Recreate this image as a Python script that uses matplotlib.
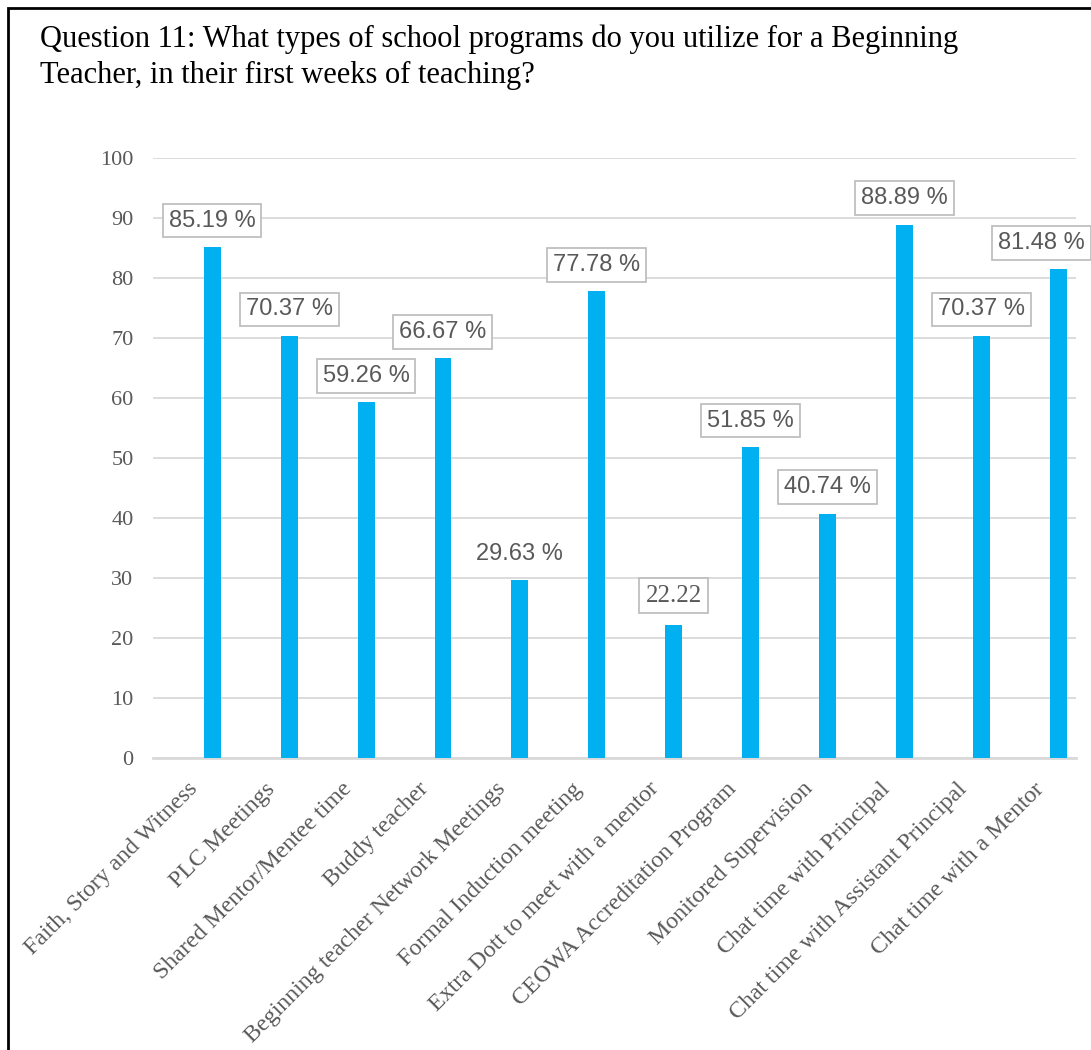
import matplotlib.pyplot as plt
import matplotlib.patches as patches
import matplotlib.transforms as transforms
import numpy as np

# dados do grafico
programas = [
    "Faith, Story and Witness",
    "PLC Meetings",
    "Shared Mentor/Mentee time",
    "Buddy teacher",
    "Beginning teacher Network Meetings",
    "Formal Induction meeting",
    "Extra Dott to meet with a mentor",
    "CEOWA Accreditation Program",
    "Monitored Supervision",
    "Chat time with Principal",
    "Chat time with Assistant Principal",
    "Chat time with a Mentor",
]
percentuais = [85.19, 70.37, 59.26, 66.67, 29.63, 77.78, 22.22, 51.85, 40.74, 88.89, 70.37, 81.48]
rotulos = ["85.19 %", "70.37 %", "59.26 %", "66.67 %", "29.63 %", "77.78 %",
           "22.22", "51.85 %", "40.74 %", "88.89 %", "70.37 %", "81.48 %"]
ticks_y = [0, 10, 20, 30, 40, 50, 60, 70, 80, 90, 100]

TITULO = "Question 11: What types of school programs do you utilize for a Beginning\nTeacher, in their first weeks of teaching?"

AZUL = "#00b0f0"
CINZA_TEXTO = "#595959"
CINZA_GRADE = "#d9d9d9"


def main():
    fig = plt.figure(figsize=(10.91, 10.5), dpi=100)
    ax = fig.add_axes([0.1402, 0.278, 0.8461, 0.5715])

    x = np.arange(len(programas))
    ax.bar(x, percentuais, width=0.22, color=AZUL, zorder=3)

    ax.set_xlim(-0.77, 11.23)
    ax.set_ylim(0, 100)
    ax.set_yticks(ticks_y)
    ax.set_yticklabels([str(t) for t in ticks_y], family="Liberation Serif",
                       fontsize=16, color=CINZA_TEXTO)
    ax.tick_params(axis="y", length=0, pad=14)
    ax.tick_params(axis="x", length=0, pad=6)

    ax.set_xticks(x)
    ax.set_xticklabels(programas, rotation=45, ha="right", rotation_mode="anchor",
                       family="Liberation Serif", fontsize=17.2, color=CINZA_TEXTO)
    # desloca os rotulos do eixo x para baixo e para a esquerda
    desloc = transforms.ScaledTranslation(-0.25, -0.12, fig.dpi_scale_trans)
    for rot in ax.get_xticklabels():
        rot.set_transform(rot.get_transform() + desloc)

    # grade horizontal
    ax.grid(axis="y", color=CINZA_GRADE, linewidth=1.3, zorder=0)
    for lado in ["top", "right", "left"]:
        ax.spines[lado].set_visible(False)
    ax.spines["bottom"].set_color(CINZA_GRADE)
    ax.spines["bottom"].set_linewidth(2)

    # rotulos de dados
    caixa = dict(boxstyle="square,pad=0.25", fc="white", ec="#bfbfbf", lw=1.3)
    for i, (v, r) in enumerate(zip(percentuais, rotulos)):
        dx = 0
        if i == len(percentuais) - 1:
            # ultimo rotulo empurrado para dentro da figura
            dx = -12
        if i == 4:
            # sem caixa
            ax.annotate(r, (x[i], v), xytext=(dx, 19), textcoords="offset points",
                        ha="center", va="center", fontsize=17, color=CINZA_TEXTO,
                        family="Liberation Sans", zorder=5, annotation_clip=False)
        elif i == 6:
            ax.annotate(r, (x[i], v), xytext=(dx, 21), textcoords="offset points",
                        ha="center", va="center", fontsize=18, color=CINZA_TEXTO,
                        family="Liberation Serif", zorder=5, annotation_clip=False,
                        bbox=caixa)
        else:
            ax.annotate(r, (x[i], v), xytext=(dx, 19), textcoords="offset points",
                        ha="center", va="center", fontsize=17, color=CINZA_TEXTO,
                        family="Liberation Sans", zorder=5, annotation_clip=False,
                        bbox=caixa)

    fig.text(0.0367, 0.977, TITULO, ha="left", va="top", fontsize=22,
             family="Liberation Serif", color="black", linespacing=1.35)

    # borda do grafico
    borda = patches.Rectangle((0.0073, -0.02), 1.1, 0.9924 + 0.02,
                              transform=fig.transFigure, fill=False,
                              edgecolor="black", linewidth=2)
    fig.patches.append(borda)

    fig.savefig("out.png", dpi=100)


if __name__ == '__main__':
    main()
